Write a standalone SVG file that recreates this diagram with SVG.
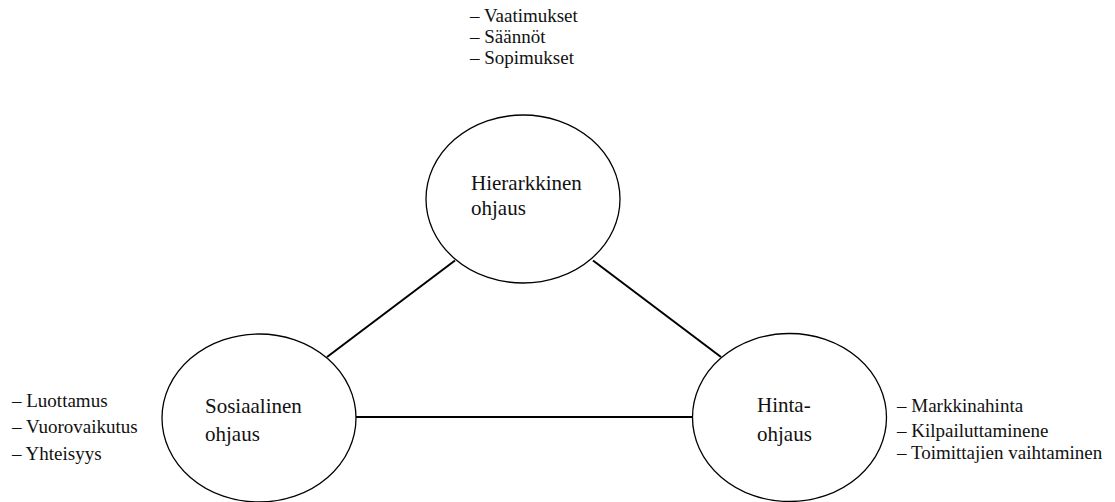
<svg xmlns="http://www.w3.org/2000/svg" width="1115" height="502" viewBox="0 0 1115 502">
<style>
.node{fill:#fff;stroke:#000;stroke-width:1.3}
.lbl{font-family:'Liberation Serif','Times New Roman',Tinos,'DejaVu Serif',serif;font-size:21px;fill:#111}
.side{font-family:'Liberation Serif','Times New Roman',Tinos,'DejaVu Serif',serif;font-size:19px;fill:#111}
.conn{stroke:#000;stroke-width:2;fill:none}
</style>
<rect width="1115" height="502" fill="#fff"/>
<g id="connectors">
<line class="conn" x1="455" y1="260.5" x2="327" y2="357"/>
<line class="conn" x1="593" y1="260.5" x2="721" y2="357"/>
<line class="conn" x1="356" y1="417" x2="693" y2="417"/>
</g>
<g id="hierarkkinen">
<ellipse class="node" cx="523" cy="199" rx="97" ry="84"/>
<text class="lbl" x="471" y="190">Hierarkkinen</text>
<text class="lbl" x="471" y="215">ohjaus</text>
</g>
<g id="hierarkkinen-items">
<text class="side" x="470" y="22">– Vaatimukset</text>
<text class="side" x="470" y="43">– Säännöt</text>
<text class="side" x="470" y="64">– Sopimukset</text>
</g>
<g id="sosiaalinen">
<ellipse class="node" cx="259" cy="418" rx="97" ry="84"/>
<text class="lbl" x="205" y="413">Sosiaalinen</text>
<text class="lbl" x="205" y="441">ohjaus</text>
</g>
<g id="sosiaalinen-items">
<text class="side" x="12" y="407">– Luottamus</text>
<text class="side" x="12" y="433">– Vuorovaikutus</text>
<text class="side" x="12" y="460">– Yhteisyys</text>
</g>
<g id="hinta">
<ellipse class="node" cx="789.5" cy="417.5" rx="97" ry="84"/>
<text class="lbl" x="757" y="412">Hinta-</text>
<text class="lbl" x="757" y="441">ohjaus</text>
</g>
<g id="hinta-items">
<text class="side" x="897" y="412">– Markkinahinta</text>
<text class="side" x="897" y="437">– Kilpailuttaminene</text>
<text class="side" x="897" y="459">– Toimittajien vaihtaminen</text>
</g>
</svg>
